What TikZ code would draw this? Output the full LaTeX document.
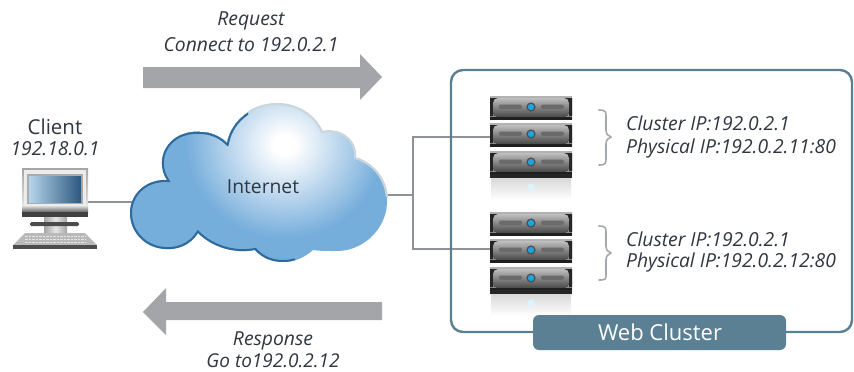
\documentclass[tikz,border=0pt]{standalone}
\usepackage{fontspec}
\setmainfont{Open Sans}
\usetikzlibrary{calc}
\definecolor{txt}{HTML}{30363F}
\definecolor{arrowgray}{HTML}{A3A5A8}
\definecolor{linegray}{HTML}{8E9296}
\definecolor{framecol}{HTML}{5B7F93}
\definecolor{cloudblue}{HTML}{75ADDB}
\definecolor{clouddark}{HTML}{2F6A9C}
\definecolor{cloudlight}{HTML}{CBD5DC}
\definecolor{screenlight}{HTML}{B5D5EA}
\definecolor{screendark}{HTML}{2C5880}
\definecolor{ledblue}{HTML}{1FA3DC}
\tikzset{
 lbl/.style={text=txt,font=\fontsize{19.3}{22}\selectfont,inner sep=0pt},
 ilbl/.style={lbl,font=\fontsize{19.3}{22}\selectfont\itshape},
 conn/.style={draw=linegray,line width=1.4pt},
 bigarrow/.style={fill=arrowgray,draw=none},
 bracestyle/.style={draw=linegray!80,line width=1.6pt,line cap=round,line join=round},
}
\newcommand{\cloudshape}{(198,233) .. controls (190,246) and (176,250) .. (165,249)
 .. controls (145,248) and (130,232) .. (130,213)
 .. controls (130,194) and (146,179) .. (167,180)
 .. controls (160,170) and (160,155) .. (168,145)
 .. controls (176,134) and (190,131) .. (200,132)
 .. controls (210,132) and (220,136) .. (227,143)
 .. controls (232,118) and (255,104) .. (277,104)
 .. controls (298,104) and (315,116) .. (322,132)
 .. controls (340,128) and (357,140) .. (355,158)
 .. controls (376,164) and (388,183) .. (387,203)
 .. controls (386,230) and (362,252) .. (335,251)
 .. controls (326,251) and (319,251) .. (313,250)
 .. controls (304,258) and (294,262) .. (283,262)
 .. controls (272,262) and (262,258) .. (255,250)
 .. controls (234,254) and (212,247) .. (198,233) -- cycle}
\newcommand{\serverunit}[1]{%
 \begin{scope}[shift={(490,#1)}]
  \fill[top color=gray!60,bottom color=gray!90] (0,0) rectangle (82,22);
  \fill[black!88] (0,20.5) rectangle (82,24);
  \fill[black!85] (0,2) -- (10,2) -- (3,9) -- (3,20) -- (0,20) -- cycle;
  \fill[black!85] (82,2) -- (72,2) -- (79,9) -- (79,20) -- (82,20) -- cycle;
  \fill[top color=gray!50,bottom color=black!72,rounded corners=5pt] (3,2) rectangle (79,21);
  \fill[black!58,rounded corners=2pt] (9,8.5) rectangle (32,13);
  \fill[black!58,rounded corners=2pt] (51,8.5) rectangle (74,13);
  \fill[black!70] (41,11) circle (4.6);
  \fill[ledblue] (41,11) circle (3.2);
 \end{scope}}
\newcommand{\serverstack}[1]{%
 \begin{scope}[shift={(0,#1)}]
  \serverunit{96}\serverunit{123}\serverunit{151}
  \fill[black!85] (490,174) rectangle (572,178);
  \fill[top color=gray!30,bottom color=white] (491,178) rectangle (571,200);
  \fill[cyan!14] (531,187) circle (3.5);
 \end{scope}}
\begin{document}
\begin{tikzpicture}[x=1pt,y=-1pt]
\useasboundingbox (0,0) rectangle (854,372);
% named anchors for connectors
\coordinate (clientport) at (88,202);
\coordinate (cloudW) at (132,202);
\coordinate (cloudE) at (386,195);
\coordinate (junction) at (413,195);
\coordinate (srvA) at (492,137);
\coordinate (srvB) at (492,249);
% connectors
\draw[conn] (clientport) -- (cloudW);
\draw[conn] (cloudE) -- (junction);
\draw[conn] (srvA) -| (junction) |- (srvB);
% frame
\draw[framecol,line width=2.4pt,rounded corners=12pt] (451,70) rectangle (852,332);
% cloud
\begin{scope}
 \clip \cloudshape;
 \fill[cloudblue] (120,95) rectangle (395,270);
 \foreach \r in {100,98,...,6} {
  \pgfmathsetmacro{\mixv}{min(100,100*(100-\r)/88)}
  \fill[white!\mixv!cloudblue] (285,145) ellipse ({\r*1.0} and {\r*0.95});
 }
 \clip (120,95) -- (250,95) -- (245,150) -- (300,270) -- (120,270) -- cycle;
 \draw[clouddark,line width=4pt] \cloudshape;
\end{scope}
\begin{scope}
 \clip (250,95) -- (395,95) -- (395,200) -- (245,150) -- cycle;
 \draw[cloudlight,line width=2.2pt] \cloudshape;
\end{scope}
\node[lbl] (internet) at (263,187) {Internet};
% big arrows
\fill[bigarrow] (143,67) -- (360,67) -- (360,54) -- (382,77) -- (360,100) -- (360,88) -- (143,88) -- cycle;
\fill[bigarrow] (382,302) -- (166,302) -- (166,288) -- (143,312) -- (166,335) -- (166,320) -- (382,320) -- cycle;
% arrow labels
\node[ilbl] (req) at (251,21) {Request};
\node[ilbl] (conn) at (251,45) {Connect to 192.0.2.1};
\node[ilbl] (resp) at (273,341) {Response};
\node[ilbl,font=\fontsize{19}{21}\selectfont\itshape] (goto) at (273,360.5) {Go to192.0.2.12};
% client labels
\node[lbl,font=\fontsize{20.5}{22}\selectfont] (client) at (55,127) {Client};
\node[ilbl] (clientip) at (55,149) {192.18.0.1};
% computer
\fill[top color=gray!70,bottom color=gray!15] (22,168) rectangle (88,212);
\fill[gray!15] (24,170) rectangle (86,205);
\fill[top color=gray!15,bottom color=black!60] (22,205) rectangle (88,212);
\fill[black!75] (22,212) rectangle (88,217);
\fill[gray!65] (27,174) rectangle (83,204);
\shade[shading angle=135,left color=screenlight,right color=screendark] (29,176) rectangle (81,202);
\fill[left color=gray!70,right color=gray!70,middle color=gray!20] (44,217) rectangle (67,232);
\fill[black!70,rounded corners=1.5pt] (30,222) rectangle (79,226);
\fill[gray!55] (25,233) -- (85,233) -- (97,245) -- (13,245) -- cycle;
\fill[black!70] (13,245) rectangle (97,249);
\foreach \r in {236,239,242}
 \draw[white!80!gray,line width=.8pt,dash pattern=on 2.5pt off 1pt] (25,\r) -- (85,\r);
% servers
\serverstack{0}
\serverstack{116}
% braces
\draw[bracestyle] (599,110) .. controls (606,110) and (606,112) .. (606,117) -- (606,130) .. controls (606,134) and (608,136) .. (611,137) .. controls (608,138) and (606,140) .. (606,144) -- (606,158) .. controls (606,163) and (606,165) .. (599,165);
\draw[bracestyle] (599,226) .. controls (606,226) and (606,228) .. (606,233) -- (606,246) .. controls (606,250) and (608,252) .. (611,253) .. controls (608,254) and (606,256) .. (606,260) -- (606,274) .. controls (606,279) and (606,280) .. (599,280);
% server labels
\node[ilbl,anchor=west] (c1) at (626,123) {Cluster IP:192.0.2.1};
\node[ilbl,anchor=west] (p1) at (626,148) {Physical IP:192.0.2.11:80};
\node[ilbl,anchor=west] (c2) at (626,239) {Cluster IP:192.0.2.1};
\node[ilbl,anchor=west] (p2) at (626,262) {Physical IP:192.0.2.12:80};
% pill
\fill[framecol,rounded corners=6pt] (533,315) rectangle (786,350);
\node[lbl,text=white,font=\fontsize{22}{24}\selectfont] (web) at (660,332) {Web Cluster};
\end{tikzpicture}
\end{document}
